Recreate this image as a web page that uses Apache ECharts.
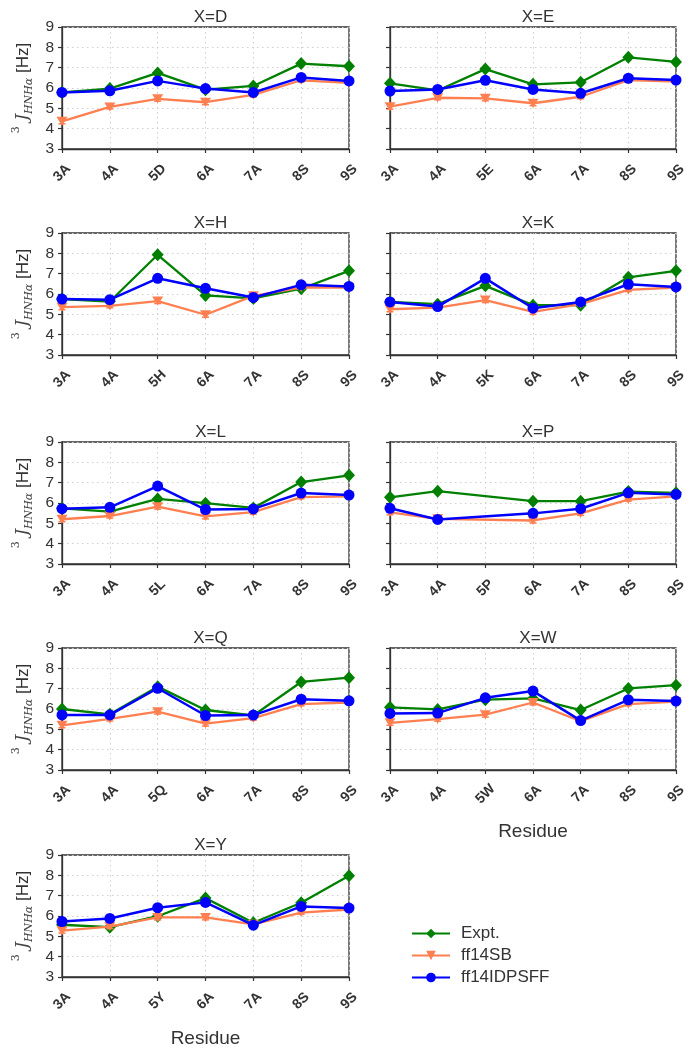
<!DOCTYPE html>
<html>
<head>
<meta charset="utf-8">
<script src="https://cdn.jsdelivr.net/npm/echarts@6/dist/echarts.min.js"></script>
<style>
html,body{margin:0;padding:0;background:#fff;}
#c{width:696px;height:1050px;}
</style>
</head>
<body>
<div id="c"></div>
<script>
// ---- data ----
const panelLetters = ['D','E','H','K','L','P','Q','W','Y'];
const yTicks = [3,4,5,6,7,8,9];

const exptD = [5.78,5.97,6.74,5.92,6.10,7.20,7.07];
const sbD   = [4.36,5.07,5.47,5.30,5.66,6.38,6.25];
const idpD  = [5.78,5.86,6.35,5.97,5.78,6.52,6.35];

const exptE = [6.23,5.88,6.93,6.18,6.28,7.51,7.28];
const sbE   = [5.08,5.52,5.49,5.25,5.57,6.39,6.31];
const idpE  = [5.85,5.93,6.38,5.93,5.74,6.48,6.39];

const exptH = [5.75,5.63,7.93,5.93,5.78,6.26,7.14];
const sbH   = [5.35,5.42,5.65,4.98,5.91,6.32,6.32];
const idpH  = [5.75,5.72,6.77,6.28,5.83,6.45,6.37];

const exptK = [5.61,5.50,6.40,5.45,5.45,6.82,7.14];
const sbK   = [5.25,5.33,5.70,5.12,5.50,6.20,6.32];
const idpK  = [5.61,5.38,6.77,5.30,5.61,6.48,6.35];

const exptL = [5.74,5.58,6.20,5.99,5.76,7.03,7.36];
const sbL   = [5.20,5.36,5.82,5.34,5.55,6.29,6.33];
const idpL  = [5.72,5.79,6.83,5.68,5.71,6.49,6.39];

const exptP = [6.28,6.58,null,6.09,6.09,6.56,6.50];
const sbP   = [5.54,5.22,null,5.14,5.49,6.17,6.33];
const idpP  = [5.74,5.19,null,5.49,5.72,6.50,6.42];

const exptQ = [6.00,5.74,7.10,5.95,5.68,7.33,7.54];
const sbQ   = [5.20,5.51,5.87,5.28,5.55,6.24,6.32];
const idpQ  = [5.71,5.71,7.02,5.68,5.70,6.48,6.40];

const exptW = [6.08,5.98,6.46,6.52,5.95,7.01,7.17];
const sbW   = [5.32,5.50,5.72,6.32,5.40,6.24,6.36];
const idpW  = [5.78,5.80,6.55,6.88,5.43,6.45,6.39];

const exptY = [5.57,5.45,5.99,6.88,5.67,6.65,7.98];
const sbY   = [5.28,5.48,5.93,5.93,5.59,6.17,6.32];
const idpY  = [5.73,5.88,6.41,6.67,5.55,6.47,6.39];

// error bar half-widths (estimated)
const sbErr   = [0.12,0.10,0.12,0.12,0.10,0.08,0.08];
const idpErr  = [0.05,0.05,0.06,0.05,0.05,0.05,0.05];
const idpErrW = [0.05,0.06,0.14,0.14,0.06,0.05,0.05];

const exptAll = [exptD,exptE,exptH,exptK,exptL,exptP,exptQ,exptW,exptY];
const sbAll   = [sbD,sbE,sbH,sbK,sbL,sbP,sbQ,sbW,sbY];
const idpAll  = [idpD,idpE,idpH,idpK,idpL,idpP,idpQ,idpW,idpY];

// ---- layout ----
const C_EXP = '#008000', C_SB = '#FF7F50', C_IDP = '#0000FF';
const lefts = [62, 390];
const widths = [287, 286];
const tops = [27, 233, 442, 648, 855];
const H = 122;
const TXT = '#333333';
const FF = 'Liberation Sans, Arial, sans-serif';

const chart = echarts.init(document.getElementById('c'), null, {renderer:'canvas'});

const grids = [], xAxes = [], yAxes = [], titles = [], series = [];

function errSeries(name, gi, vals, errs, color){
  const data = [];
  vals.forEach((v,i)=>{ if(v!=null) data.push([i, v, errs[i]]); });
  return {
    type:'custom', name: name, xAxisIndex: gi, yAxisIndex: gi, z: 3,
    silent: true,
    itemStyle:{color:color},
    encode:{x:0, y:1},
    data: data,
    renderItem: function(params, api){
      const x = api.value(0), y = api.value(1), e = api.value(2);
      const hi = api.coord([x, y + e]);
      const lo = api.coord([x, y - e]);
      const w = 3.5;
      const st = {stroke: color, lineWidth: 1.5};
      return {type:'group', children:[
        {type:'line', shape:{x1:hi[0], y1:hi[1], x2:lo[0], y2:lo[1]}, style: st},
        {type:'line', shape:{x1:hi[0]-w, y1:hi[1], x2:hi[0]+w, y2:hi[1]}, style: st},
        {type:'line', shape:{x1:lo[0]-w, y1:lo[1], x2:lo[0]+w, y2:lo[1]}, style: st}
      ]};
    }
  };
}

panelLetters.forEach((L, gi)=>{
  const col = gi % 2, row = Math.floor(gi/2);
  const left = lefts[col], top = tops[row], width = widths[col];
  const cats = ['3A','4A','5'+L,'6A','7A','8S','9S'];
  grids.push({left:left, top:top, width:width, height:H, show:true,
    borderColor:'#333', borderWidth:1.3, backgroundColor:'transparent', containLabel:false});
  const showXName = (L === 'W' || L === 'Y');
  xAxes.push({
    type:'category', gridIndex:gi, data:cats, boundaryGap:false,
    axisLine:{show:true, lineStyle:{color:'#333', width:1.3}},
    axisTick:{show:true, alignWithLabel:true, length:4, inside:false, lineStyle:{color:'#333', width:1.2}},
    axisLabel:{show:true, rotate:45, fontSize:14, fontWeight:'bold', color:TXT, margin:24,
      align:'center', verticalAlign:'middle',
      fontFamily:FF, interval:0},
    splitLine:{show:true, lineStyle:{color:'#cfcfcf', type:[1.5,3.5], width:1}},
    name: showXName ? 'Residue' : '',
    nameLocation:'middle', nameGap:52,
    nameTextStyle:{fontSize:19, color:TXT, fontFamily:FF, verticalAlign:'top'}
  });
  const showY = col === 0;
  yAxes.push({
    type:'value', gridIndex:gi, min:3, max:9, interval:1,
    axisLine:{show:true, lineStyle:{color:'#333', width:1.3}},
    axisTick:{show:true, length:4, inside:false, lineStyle:{color:'#333', width:1.2}},
    axisLabel:{show:showY, fontSize:15.5, color:TXT, margin:8, fontFamily:FF},
    splitLine:{show:true, lineStyle:{color:'#cfcfcf', type:[1.5,3.5], width:1}},
    name: showY ? '{s|3}{j| J}{b|HNHα}{h| [Hz]}' : '',
    nameLocation:'middle', nameGap:27, nameRotate:90,
    nameTextStyle:{
      color:TXT,
      rich:{
        s:{fontSize:11, color:'#444', fontFamily:'DejaVu Serif, serif', verticalAlign:'top', lineHeight:24},
        j:{fontSize:17, color:'#444', fontStyle:'italic', fontFamily:'DejaVu Serif, serif', lineHeight:24},
        b:{fontSize:11, color:'#444', fontStyle:'italic', fontFamily:'DejaVu Serif, serif', verticalAlign:'bottom', lineHeight:24},
        h:{fontSize:17, color:TXT, fontFamily:FF, lineHeight:24}
      }
    }
  });
  titles.push({
    text:'X='+L, left: left + width/2, top: top - 23, textAlign:'center',
    textStyle:{fontSize:17, fontWeight:'normal', color:TXT, fontFamily:FF}
  });

  const lineCommon = {type:'line', xAxisIndex:gi, yAxisIndex:gi, connectNulls:true,
    showAllSymbol:true, animation:false};
  series.push(Object.assign({}, lineCommon, {
    name:'Expt.', data: exptAll[gi], symbol:'diamond', symbolSize:[12,13], z:2,
    itemStyle:{color:C_EXP}, lineStyle:{color:C_EXP, width:2.3}
  }));
  series.push(errSeries('ff14SB err', gi, sbAll[gi], sbErr, C_SB));
  series.push(Object.assign({}, lineCommon, {
    name:'ff14SB', data: sbAll[gi], symbol:'triangle', symbolRotate:180, symbolSize:[11,9], z:4,
    itemStyle:{color:C_SB}, lineStyle:{color:C_SB, width:2.3}
  }));
  series.push(errSeries('ff14IDPSFF err', gi, idpAll[gi], L==='W'?idpErrW:idpErr, C_IDP));
  series.push(Object.assign({}, lineCommon, {
    name:'ff14IDPSFF', data: idpAll[gi], symbol:'circle', symbolSize:11, z:6,
    itemStyle:{color:C_IDP}, lineStyle:{color:C_IDP, width:2.5}
  }));
});

chart.setOption({
  animation:false,
  backgroundColor:'#ffffff',
  title: titles,
  grid: grids,
  xAxis: xAxes,
  yAxis: yAxes,
  legend:{
    orient:'vertical', left:406, top:920,
    itemWidth:38, itemHeight:12, itemGap:5,
    data:['Expt.','ff14SB','ff14IDPSFF'],
    textStyle:{fontSize:17, color:TXT, fontFamily:FF, padding:[0,0,0,6]},
    selectedMode:false
  },
  series: series
});
</script>
</body>
</html>
